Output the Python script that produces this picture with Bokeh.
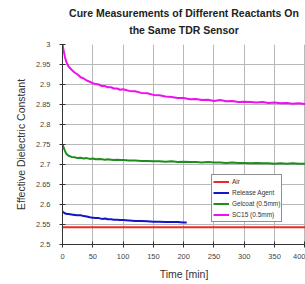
from bokeh.plotting import figure
from bokeh.models import Range1d, FixedTicker, Legend, LegendItem, Title
from bokeh.embed import file_html
from bokeh.resources import INLINE

# ---------------- data ----------------
t_main = [0, 2, 4, 6, 8, 10, 15, 20, 25, 30, 35, 40, 45, 50, 55, 60, 65, 70, 75, 80,
          85, 90, 95, 100, 110, 120, 130, 140, 150, 160, 170, 180, 190, 200, 210, 220,
          230, 240, 250, 260, 270, 280, 290, 300, 310, 320, 330, 340, 350, 360, 370,
          380, 390, 400, 410]
sc15 = [3.000, 2.984, 2.969, 2.958, 2.951, 2.945, 2.937, 2.930, 2.925, 2.918, 2.915,
        2.910, 2.907, 2.903, 2.901, 2.900, 2.896, 2.896, 2.893, 2.893, 2.890, 2.890,
        2.887, 2.888, 2.884, 2.883, 2.879, 2.878, 2.874, 2.873, 2.870, 2.869, 2.866,
        2.866, 2.863, 2.864, 2.861, 2.862, 2.859, 2.861, 2.858, 2.859, 2.856, 2.857,
        2.856, 2.855, 2.856, 2.854, 2.855, 2.853, 2.854, 2.852, 2.853, 2.851, 2.852]
gelcoat = [2.750, 2.742, 2.734, 2.728, 2.724, 2.722, 2.719, 2.718, 2.716, 2.717, 2.715,
           2.716, 2.714, 2.715, 2.713, 2.714, 2.713, 2.712, 2.713, 2.712, 2.711, 2.712,
           2.711, 2.711, 2.710, 2.710, 2.709, 2.709, 2.708, 2.708, 2.707, 2.708, 2.706,
           2.707, 2.706, 2.706, 2.705, 2.706, 2.705, 2.705, 2.704, 2.705, 2.704, 2.704,
           2.703, 2.704, 2.703, 2.703, 2.702, 2.703, 2.702, 2.703, 2.702, 2.702, 2.702]
t_release = [0, 2, 4, 6, 8, 10, 15, 20, 25, 30, 35, 40, 45, 50, 55, 60, 65, 70, 75, 80,
             85, 90, 95, 100, 110, 120, 130, 140, 150, 160, 170, 180, 190, 200, 205]
release = [2.582, 2.580, 2.578, 2.577, 2.576, 2.576, 2.575, 2.574, 2.573, 2.573, 2.571,
           2.570, 2.568, 2.567, 2.566, 2.566, 2.564, 2.565, 2.563, 2.563, 2.562, 2.562,
           2.561, 2.561, 2.560, 2.559, 2.559, 2.558, 2.557, 2.557, 2.556, 2.556, 2.556,
           2.555, 2.555]
t_air = [0, 410]
air = [2.543, 2.543]

series_names = ["Air", "Release Agent", "Gelcoat (0.5mm)", "SC15 (0.5mm)"]

x_ticks = [0, 50, 100, 150, 200, 250, 300, 350, 400]
y_ticks = [2.5, 2.55, 2.6, 2.65, 2.7, 2.75, 2.8, 2.85, 2.9, 2.95, 3.0]
y_tick_labels = ["2.5", "2.55", "2.6", "2.65", "2.7", "2.75", "2.8", "2.85", "2.9", "2.95", "3"]

title_line1 = "Cure Measurements of Different Reactants On"
title_line2 = "the Same TDR Sensor"

FONT = "Liberation Sans"

p = figure(width=305, height=284, output_backend="svg", toolbar_location=None,
           x_range=Range1d(0, 401), y_range=Range1d(2.5, 3.0),
           min_border_left=62, min_border_right=0, min_border_top=44, min_border_bottom=40)
p.outline_line_color = None
p.background_fill_color = "white"
p.border_fill_color = "white"

# two title lines (the later one added sits further from the frame)
t2 = Title(text=title_line2, align="center", text_font=FONT, text_font_size="10.5px",
           text_font_style="bold", text_color="#222222", standoff=18, offset=0)
t1 = Title(text=title_line1, align="center", text_font=FONT, text_font_size="10.5px",
           text_font_style="bold", text_color="#222222", standoff=-13, offset=0)
p.add_layout(t2, "above")
p.add_layout(t1, "above")

# grid
p.xgrid.ticker = FixedTicker(ticks=x_ticks)
p.ygrid.ticker = FixedTicker(ticks=y_ticks)
p.grid.grid_line_color = "#b8b8b8"
p.grid.grid_line_width = 1

# axes
for ax in (p.xaxis[0], p.yaxis[0]):
    ax.axis_line_color = "#333333"
    ax.major_tick_line_color = "#333333"
    ax.major_tick_in = 3
    ax.major_tick_out = 3
    ax.minor_tick_line_color = None
    ax.major_label_text_font = FONT
    ax.major_label_text_font_size = "7.5px"
    ax.major_label_text_color = "#444444"
    ax.axis_label_text_font = FONT
    ax.axis_label_text_font_size = "10.5px"
    ax.axis_label_text_font_style = "normal"
    ax.axis_label_text_color = "#333333"

p.xaxis.ticker = FixedTicker(ticks=x_ticks)
p.yaxis.ticker = FixedTicker(ticks=y_ticks)
p.yaxis.major_label_overrides = dict(zip(y_ticks, y_tick_labels))
p.xaxis.axis_label = "Time [min]"
p.yaxis.axis_label = "Effective Dielectric Constant"
p.yaxis.major_label_standoff = 9
p.yaxis.axis_label_standoff = 6
p.xaxis.major_label_standoff = 6
p.xaxis.axis_label_standoff = 6

# lines
r_air = p.line(t_air, air, line_color="#ee2828", line_width=2)
r_rel = p.line(t_release, release, line_color="#1515c8", line_width=2)
r_gel = p.line(t_main, gelcoat, line_color="#1e8c1e", line_width=2)
r_sc = p.line(t_main, sc15, line_color="#ee10ee", line_width=2)

legend = Legend(items=[LegendItem(label=series_names[0], renderers=[r_air]),
                       LegendItem(label=series_names[1], renderers=[r_rel]),
                       LegendItem(label=series_names[2], renderers=[r_gel]),
                       LegendItem(label=series_names[3], renderers=[r_sc])],
                location=(149, 22), orientation="vertical",
                label_text_font=FONT, label_text_font_size="6.5px", label_text_color="#333333",
                glyph_width=16, glyph_height=11, label_height=11, label_standoff=3,
                spacing=0, padding=1, margin=0,
                border_line_color="#222222", border_line_width=1,
                background_fill_color="white", background_fill_alpha=1)
p.add_layout(legend, "center")

open("out.html", "w").write(file_html(p, INLINE))
